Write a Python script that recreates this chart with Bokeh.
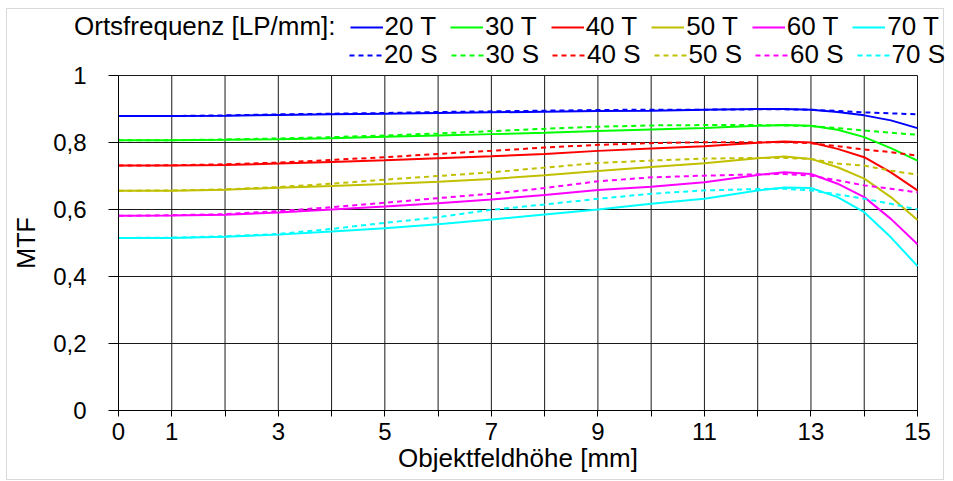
from bokeh.plotting import figure
from bokeh.models import Range1d, FixedTicker, Legend, LegendItem
from bokeh.embed import file_html
from bokeh.resources import INLINE

# ---- data ----
x_pos = [0, 1, 2, 3, 4, 5, 6, 7, 8, 9, 10, 11, 12, 12.5, 13, 13.5, 14, 14.5, 15]

t20 = [0.879, 0.879, 0.880, 0.882, 0.884, 0.886, 0.888, 0.890, 0.892, 0.894, 0.895, 0.898, 0.900, 0.900, 0.898, 0.891, 0.881, 0.866, 0.843]
s20 = [0.879, 0.879, 0.881, 0.884, 0.886, 0.888, 0.891, 0.893, 0.895, 0.897, 0.898, 0.898, 0.899, 0.899, 0.898, 0.894, 0.890, 0.887, 0.884]
t30 = [0.807, 0.807, 0.808, 0.810, 0.813, 0.817, 0.821, 0.825, 0.829, 0.834, 0.839, 0.843, 0.850, 0.852, 0.850, 0.838, 0.816, 0.783, 0.746]
s30 = [0.807, 0.807, 0.809, 0.812, 0.816, 0.821, 0.827, 0.834, 0.841, 0.847, 0.851, 0.852, 0.852, 0.851, 0.849, 0.843, 0.836, 0.829, 0.823]
t40 = [0.731, 0.731, 0.733, 0.737, 0.742, 0.747, 0.753, 0.759, 0.766, 0.775, 0.782, 0.789, 0.799, 0.803, 0.800, 0.781, 0.756, 0.711, 0.657]
s40 = [0.731, 0.732, 0.735, 0.740, 0.748, 0.756, 0.766, 0.775, 0.785, 0.793, 0.798, 0.801, 0.801, 0.801, 0.798, 0.789, 0.779, 0.771, 0.761]
t50 = [0.656, 0.656, 0.659, 0.665, 0.670, 0.676, 0.683, 0.691, 0.702, 0.715, 0.727, 0.738, 0.753, 0.758, 0.751, 0.726, 0.692, 0.637, 0.569]
s50 = [0.656, 0.657, 0.660, 0.667, 0.677, 0.689, 0.700, 0.711, 0.725, 0.739, 0.746, 0.752, 0.754, 0.754, 0.751, 0.737, 0.731, 0.716, 0.704]
t60 = [0.581, 0.582, 0.584, 0.591, 0.600, 0.609, 0.619, 0.630, 0.643, 0.658, 0.668, 0.681, 0.703, 0.711, 0.706, 0.677, 0.637, 0.572, 0.496]
s60 = [0.581, 0.583, 0.586, 0.595, 0.607, 0.620, 0.634, 0.647, 0.664, 0.684, 0.696, 0.701, 0.705, 0.706, 0.701, 0.687, 0.672, 0.662, 0.651]
t70 = [0.515, 0.515, 0.519, 0.525, 0.534, 0.544, 0.556, 0.570, 0.585, 0.600, 0.617, 0.632, 0.657, 0.666, 0.664, 0.637, 0.592, 0.517, 0.431]
s70 = [0.515, 0.516, 0.520, 0.527, 0.542, 0.560, 0.577, 0.599, 0.615, 0.632, 0.647, 0.657, 0.661, 0.662, 0.657, 0.645, 0.632, 0.617, 0.600]

freqs = ["20", "30", "40", "50", "60", "70"]
t_series = [t20, t30, t40, t50, t60, t70]
s_series = [s20, s30, s40, s50, s60, s70]
colors = ["#0000FF", "#00FF00", "#FF0000", "#C0C000", "#FF00FF", "#00FFFF"]
legend_title = "Ortsfrequenz [LP/mm]:"

x_min, x_max = 0, 15
y_min, y_max = 0, 1
x_ticks = list(range(16))
x_labels = {0: "0", 1: "1", 3: "3", 5: "5", 7: "7", 9: "9", 11: "11", 13: "13", 15: "15"}
y_ticks = [0, 0.2, 0.4, 0.6, 0.8, 1]
y_labels = ["0", "0,2", "0,4", "0,6", "0,8", "1"]

FONT = "Liberation Sans"
DASH = "5 4"
GRID = "#1a1a1a"

# ---- layout: the frame fills the whole figure, the data area sits inside it ----
W, H = 938, 472
PX_LEFT, PX_RIGHT = 111, 28       # pixels left of x=0 / right of x=15
PX_TOP, PX_BOTTOM = 401, 71       # pixels above / below y=0 (y=1 is 335 px above y=0)
sx = (W - PX_LEFT - PX_RIGHT) / (x_max - x_min)
sy = 335 / (y_max - y_min)

p = figure(width=W, height=H, output_backend="svg", toolbar_location=None,
           x_range=Range1d(x_min - PX_LEFT / sx, x_max + PX_RIGHT / sx),
           y_range=Range1d(y_min - PX_BOTTOM / sy, y_min + PX_TOP / sy),
           min_border_left=0, min_border_right=0, min_border_top=0, min_border_bottom=0)
p.styles = {"border": "1px solid #d9d9d9", "margin-left": "6px", "margin-top": "8px"}
p.outline_line_color = None
p.grid.visible = False

# grid lines (only inside the data area)
p.segment(x0=x_ticks, y0=[y_min] * len(x_ticks), x1=x_ticks, y1=[y_max] * len(x_ticks),
          line_color=GRID, line_width=1)
p.segment(x0=[x_min] * len(y_ticks), y0=y_ticks, x1=[x_max] * len(y_ticks), y1=y_ticks,
          line_color=GRID, line_width=1)

# axes pinned at x=0 / y=0
p.xaxis.fixed_location = 0
p.yaxis.fixed_location = 0
p.xaxis.bounds = (x_min, x_max)
p.yaxis.bounds = (y_min, y_max)
p.xaxis.ticker = FixedTicker(ticks=x_ticks)
p.xaxis.major_label_overrides = {t: x_labels.get(t, "") for t in x_ticks}
p.yaxis.ticker = FixedTicker(ticks=y_ticks)
p.yaxis.major_label_overrides = {t: l for t, l in zip(y_ticks, y_labels)}
p.xaxis.minor_tick_line_color = None
p.yaxis.minor_tick_line_color = None

for ax in (p.xaxis[0], p.yaxis[0]):
    ax.axis_line_color = "#000000"
    ax.major_tick_line_color = "#000000"
    ax.major_tick_in = 0
    ax.major_label_text_font = FONT
    ax.major_label_text_font_size = "24px"
    ax.major_label_text_color = "#000000"
    ax.axis_label_text_font = FONT
    ax.axis_label_text_font_style = "normal"
    ax.axis_label_text_color = "#000000"

p.xaxis.major_tick_out = 6
p.xaxis.major_label_standoff = 6
p.xaxis.axis_label = "Objektfeldhöhe [mm]"
p.xaxis.axis_label_text_font_size = "26px"
p.xaxis.axis_label_standoff = 0

p.yaxis.major_tick_out = 10
p.yaxis.major_label_standoff = 22
p.yaxis.axis_label = "MTF"
p.yaxis.axis_label_text_font_size = "25px"
p.yaxis.axis_label_standoff = 10

# curves
t_items = []
s_items = []
for f, ty, sy_, c in zip(freqs, t_series, s_series, colors):
    rt = p.line(x_pos, ty, line_color=c, line_width=2)
    rs = p.line(x_pos, sy_, line_color=c, line_width=2, line_dash=DASH)
    t_items.append(LegendItem(label=f + " T", renderers=[rt]))
    s_items.append(LegendItem(label=f + " S", renderers=[rs]))

r_title = p.line(x=[], y=[], line_alpha=0)
title_item = LegendItem(label=legend_title, renderers=[r_title])


def make_legend(items, x, y, spacing):
    return Legend(items=items, orientation="horizontal", location=(x, y),
                  spacing=spacing, glyph_width=33, glyph_height=20, label_standoff=2,
                  label_height=20, padding=0, margin=0,
                  border_line_color=None, background_fill_alpha=0,
                  label_text_font=FONT, label_text_font_size="26px",
                  label_text_color="#000000")


p.add_layout(make_legend([title_item] + t_items, 32, 439, 14))
p.add_layout(make_legend(s_items, 342, 411, 13))

open("out.html", "w").write(file_html(p, INLINE))
